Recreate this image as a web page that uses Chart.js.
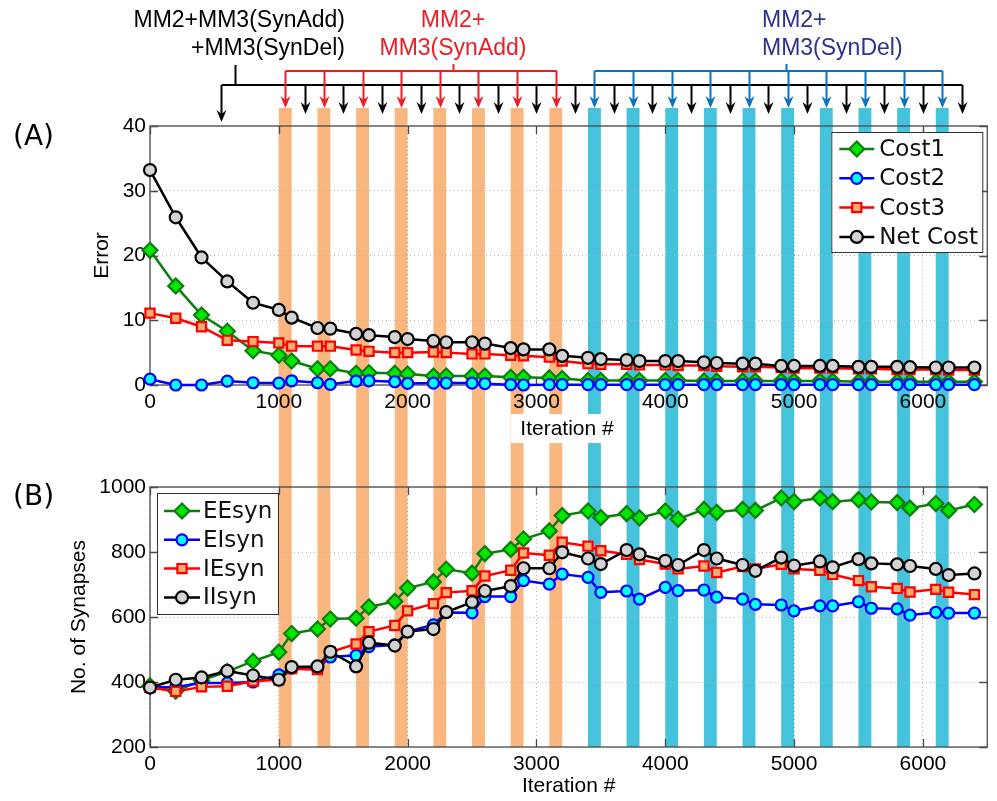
<!DOCTYPE html>
<html>
<head>
<meta charset="utf-8">
<script src="https://cdn.jsdelivr.net/npm/chart.js@4.4.1/dist/chart.umd.min.js"></script>
<style>
  body { margin: 0; background: #fff; }
  #wrap { position: relative; width: 997px; height: 801px; }
  #wrap canvas { position: absolute; left: 0; }
</style>
</head>
<body>
<div id="wrap">
  <canvas id="errorChart" width="997" height="460" style="top:0"></canvas>
  <canvas id="synChart" width="997" height="341" style="top:460px"></canvas>
</div>
<script>
// iterations at which the network was sampled
const iterations = [0, 200, 400, 600, 800, 1000, 1100, 1300, 1400, 1600, 1700, 1900, 2000, 2200, 2300,
  2500, 2600, 2800, 2900, 3100, 3200, 3400, 3500, 3700, 3800, 4000, 4100, 4300, 4400, 4600, 4700,
  4900, 5000, 5200, 5300, 5500, 5600, 5800, 5900, 6100, 6200, 6400];

// (A) error terms
const cost1 = [20.8, 15.3, 10.8, 8.3, 5.3, 4.6, 3.7, 2.5, 2.5, 1.8, 1.9, 1.8, 1.7, 1.4, 1.4, 1.4, 1.4, 1.2, 1.2, 1.1, 1.0,
  0.7, 0.7, 0.7, 0.7, 0.7, 0.7, 0.6, 0.6, 0.6, 0.6, 0.6, 0.6, 0.6, 0.6, 0.5, 0.5, 0.5, 0.5, 0.5, 0.5, 0.5];
const cost2 = [0.9, 0.0, 0.0, 0.6, 0.35, 0.3, 0.65, 0.35, 0.1, 0.6, 0.65, 0.5, 0.25, 0.3, 0.3, 0.3, 0.2, 0.05, 0.0, 0.05, 0.05,
  0.05, 0.05, 0.05, 0.05, 0.05, 0.05, 0.05, 0.05, 0.05, 0.05, 0.05, 0.05, 0.05, 0.05, 0.05, 0.05, 0.05, 0.05, 0.05, 0.05, 0.05];
const cost3 = [11.1, 10.3, 9.0, 6.9, 6.7, 6.5, 6.0, 6.0, 6.0, 5.4, 5.2, 5.0, 5.0, 5.1, 5.0, 4.8, 4.8, 4.6, 4.5, 4.3, 3.7,
  3.3, 3.2, 3.2, 3.1, 3.1, 3.0, 3.0, 2.9, 2.8, 2.8, 2.7, 2.6, 2.6, 2.6, 2.5, 2.5, 2.4, 2.4, 2.4, 2.3, 2.3];
const netCost = [33.2, 25.9, 19.7, 16.0, 12.7, 11.6, 10.4, 8.8, 8.7, 7.9, 7.7, 7.4, 7.1, 6.8, 6.6, 6.6, 6.4, 5.7, 5.5, 5.5, 4.5,
  4.2, 4.0, 3.85, 3.7, 3.7, 3.7, 3.5, 3.4, 3.3, 3.3, 2.95, 2.95, 2.95, 2.95, 2.8, 2.8, 2.8, 2.75, 2.7, 2.7, 2.7];

// (B) synapse counts
const eeSyn = [388, 372, 405, 432, 464, 492, 549, 563, 594, 596, 631, 648, 689, 708, 747, 735, 795, 808, 840, 865, 912,
  926, 906, 918, 905, 926, 901, 931, 922, 931, 928, 966, 955, 966, 955, 961, 954, 952, 935, 949, 928, 946];
const eiSyn = [383, 385, 397, 397, 400, 422, 443, 443, 477, 482, 509, 514, 555, 576, 614, 613, 663, 663, 712, 701, 732,
  722, 676, 680, 655, 691, 681, 683, 661, 655, 639, 637, 619, 634, 634, 647, 627, 625, 606, 614, 612, 612];
const ieSyn = [383, 371, 385, 387, 402, 407, 441, 438, 492, 517, 555, 574, 619, 641, 675, 681, 726, 744, 797, 790, 830,
  818, 804, 793, 777, 763, 748, 757, 737, 755, 748, 762, 748, 744, 731, 712, 693, 688, 677, 685, 676, 669];
const iiSyn = [383, 407, 414, 434, 420, 407, 446, 448, 493, 448, 521, 512, 555, 563, 615, 646, 680, 695, 750, 750, 799,
  780, 763, 806, 793, 773, 760, 806, 780, 760, 742, 783, 758, 771, 753, 778, 765, 762, 757, 748, 729, 734];

// axis ticks
const iterTicks = [0, 1000, 2000, 3000, 4000, 5000, 6000];
const errorTicks = [0, 10, 20, 30, 40];
const synTicks = [200, 400, 600, 800, 1000];

// stages: synapse addition windows and synapse deletion windows
const addStarts = [1000, 1300, 1600, 1900, 2200, 2500, 2800, 3100];
const delStarts = [3400, 3700, 4000, 4300, 4600, 4900, 5200, 5500, 5800, 6100];
const stageLength = 100;
const addArrows = [1050, 1350, 1650, 1950, 2250, 2550, 2850, 3150];
const delArrows = [3450, 3750, 4050, 4350, 4650, 4950, 5250, 5550, 5850, 6150];
const bothArrows = [1200, 1500, 1800, 2100, 2400, 2700, 3000, 3300, 3600, 3900, 4200, 4500, 4800, 5100,
  5400, 5700, 6000, 6300];
const startArrow = 550;

const ORANGE = '#f9b67f';
const CYAN = '#45c2dc';
const RED = '#ee1c25';
const BLUE_ARROW = '#0a70c2';
const BLUE_TEXT = '#2e3192';
const FONT = 'Liberation Sans, Arial, sans-serif';
const LEGEND_FONT = '23px DejaVu Sans, sans-serif';

const looks = {
  green: { borderColor: '#0b7f0b', pointBackgroundColor: '#00e600', pointBorderColor: '#0b7f0b',
    pointStyle: 'rectRot', pointRadius: 7.5, order: 3 },
  blue: { borderColor: '#0000ff', pointBackgroundColor: '#00ffff', pointBorderColor: '#0000ff',
    pointStyle: 'circle', pointRadius: 5.5, order: 2 },
  red: { borderColor: '#ff0000', pointBackgroundColor: '#f7ae72', pointBorderColor: '#ff0000',
    pointStyle: 'rect', pointRadius: 6.5, order: 1 },
  black: { borderColor: '#000000', pointBackgroundColor: '#d3d3d3', pointBorderColor: '#000000',
    pointStyle: 'circle', pointRadius: 6, order: 0 }
};

function series(label, values, look) {
  return Object.assign({
    label: label,
    data: iterations.map((it, i) => ({ x: it, y: values[i] })),
    borderWidth: 2.5,
    pointBorderWidth: 2.2,
    tension: 0,
    fill: false,
    clip: false
  }, look);
}

function fixedTicks(values) {
  return scale => { scale.ticks = values.map(v => ({ value: v })); };
}

function drawStages(chart, top, bottom) {
  const { ctx, scales: { x } } = chart;
  ctx.save();
  const fillStage = (start, color) => {
    const l = x.getPixelForValue(start);
    const r = x.getPixelForValue(start + stageLength);
    ctx.fillStyle = color;
    ctx.fillRect(l, top, r - l, bottom - top);
  };
  addStarts.forEach(s => fillStage(s, ORANGE));
  delStarts.forEach(s => fillStage(s, CYAN));
  ctx.restore();
}

function drawBox(chart) {
  const { ctx, chartArea: a, scales: { x, y } } = chart;
  ctx.save();
  ctx.strokeStyle = '#4a4a4a';
  ctx.lineWidth = 1.3;
  ctx.strokeRect(a.left, a.top, a.width, a.height);
  ctx.beginPath();
  x.ticks.forEach(t => {
    const px = Math.round(x.getPixelForValue(t.value)) + 0.5;
    ctx.moveTo(px, a.bottom); ctx.lineTo(px, a.bottom - 8);
    ctx.moveTo(px, a.top); ctx.lineTo(px, a.top + 8);
  });
  y.ticks.forEach(t => {
    const py = Math.round(y.getPixelForValue(t.value)) + 0.5;
    ctx.moveTo(a.left, py); ctx.lineTo(a.left + 8, py);
    ctx.moveTo(a.right, py); ctx.lineTo(a.right - 8, py);
  });
  ctx.stroke();
  ctx.restore();
}

function drawLegend(chart, box) {
  const { ctx } = chart;
  ctx.save();
  ctx.fillStyle = '#fff';
  ctx.fillRect(box.x, box.y, box.w, box.h);
  ctx.strokeStyle = '#333';
  ctx.lineWidth = 1;
  ctx.strokeRect(box.x + 0.5, box.y + 0.5, box.w, box.h);
  ctx.font = LEGEND_FONT;
  ctx.textBaseline = 'middle';
  chart.data.datasets.forEach((ds, i) => {
    const cy = box.y + box.first + i * box.step;
    ctx.strokeStyle = ds.borderColor;
    ctx.lineWidth = ds.borderWidth;
    ctx.beginPath();
    ctx.moveTo(box.x + box.lineFrom, cy);
    ctx.lineTo(box.x + box.lineTo, cy);
    ctx.stroke();
    ctx.fillStyle = ds.pointBackgroundColor;
    ctx.strokeStyle = ds.pointBorderColor;
    ctx.lineWidth = ds.pointBorderWidth;
    Chart.helpers.drawPoint(ctx, { pointStyle: ds.pointStyle, radius: ds.pointRadius, rotation: 0,
      borderWidth: ds.pointBorderWidth }, box.x + (box.lineFrom + box.lineTo) / 2, cy);
    ctx.fillStyle = '#111';
    ctx.fillText(ds.label, box.x + box.text, cy + 1);
  });
  ctx.restore();
}

function arrow(ctx, x, y0, tip, color) {
  ctx.strokeStyle = color;
  ctx.fillStyle = color;
  ctx.lineWidth = 2;
  ctx.beginPath();
  ctx.moveTo(x, y0);
  ctx.lineTo(x, tip - 6);
  ctx.stroke();
  ctx.beginPath();
  ctx.moveTo(x, tip);
  ctx.lineTo(x - 5, tip - 12);
  ctx.lineTo(x, tip - 8);
  ctx.lineTo(x + 5, tip - 12);
  ctx.closePath();
  ctx.fill();
}

function drawStageNotes(chart) {
  const { ctx, scales: { x } } = chart;
  const px = v => Math.round(x.getPixelForValue(v)) + 0.5;
  ctx.save();
  // combined MM2 + both MM3 moves
  ctx.strokeStyle = '#000';
  ctx.lineWidth = 2;
  ctx.beginPath();
  ctx.moveTo(px(startArrow), 85);
  ctx.lineTo(px(bothArrows[bothArrows.length - 1]), 85);
  ctx.moveTo(235.5, 65);
  ctx.lineTo(235.5, 85);
  ctx.stroke();
  arrow(ctx, px(startArrow), 85, 122, '#000');
  bothArrows.forEach(v => arrow(ctx, px(v), 85, 114, '#000'));

  // brackets for the addition and deletion stages
  const bracket = (list, stemX, color) => {
    ctx.strokeStyle = color;
    ctx.lineWidth = 2;
    ctx.beginPath();
    ctx.moveTo(px(list[0]), 71);
    ctx.lineTo(px(list[list.length - 1]), 71);
    ctx.moveTo(stemX, 64);
    ctx.lineTo(stemX, 71);
    ctx.stroke();
    list.forEach(v => arrow(ctx, px(v), 71, 108, color));
  };
  bracket(addArrows, 453.5, RED);
  bracket(delArrows, 786.5, BLUE_ARROW);

  ctx.font = '23px ' + FONT;
  ctx.textBaseline = 'middle';
  ctx.fillStyle = '#000';
  ctx.textAlign = 'right';
  ctx.fillText('MM2+MM3(SynAdd)', 345, 21);
  ctx.fillText('+MM3(SynDel)', 345, 49);
  ctx.fillStyle = RED;
  ctx.textAlign = 'center';
  ctx.fillText('MM2+', 453, 21);
  ctx.fillText('MM3(SynAdd)', 453, 49);
  ctx.fillStyle = BLUE_TEXT;
  ctx.textAlign = 'left';
  ctx.fillText('MM2+', 762, 21);
  ctx.fillText('MM3(SynDel)', 762, 49);

  ctx.fillStyle = '#000';
  ctx.font = '28px DejaVu Sans, sans-serif';
  ctx.fillText('(A)', 13, 138);
  ctx.restore();
}

function axisTitle(text) {
  return { display: true, text: text, color: '#000', padding: 0, font: { family: FONT, size: 21 } };
}

function baseScales(yMin, yMax, yTicks, yTitle, xTitle, yWidth, xHeight) {
  const plain = v => String(v);
  return {
    x: {
      type: 'linear', min: 0, max: 6500,
      afterBuildTicks: fixedTicks(iterTicks),
      afterFit: s => { s.height = xHeight; },
      grid: { color: '#b4b4b4', lineWidth: 1, drawTicks: false },
      border: { display: false, dash: [1, 3] },
      ticks: { color: '#000', padding: 5, maxRotation: 0, autoSkip: false, callback: plain,
        font: { family: FONT, size: 21 } },
      title: xTitle
    },
    y: {
      type: 'linear', min: yMin, max: yMax,
      afterBuildTicks: fixedTicks(yTicks),
      afterFit: s => { s.width = yWidth; },
      grid: { color: '#b4b4b4', lineWidth: 1, drawTicks: false },
      border: { display: false, dash: [1, 3] },
      ticks: { color: '#000', padding: 4, autoSkip: false, callback: plain,
        font: { family: FONT, size: 21 } },
      title: axisTitle(yTitle)
    }
  };
}

const errorPanel = {
  id: 'errorPanel',
  beforeDraw(chart) { drawStages(chart, 108, chart.height); },
  beforeDatasetsDraw(chart) { drawBox(chart); },
  afterDraw(chart) {
    const a = chart.chartArea;
    drawLegend(chart, { x: a.right - 156, y: a.top + 6, w: 151, h: 120, first: 17, step: 29.3,
      lineFrom: 8, lineTo: 43, text: 48 });
    drawStageNotes(chart);
    // x-axis title on a white patch above the stage bands
    const ctx = chart.ctx;
    ctx.save();
    ctx.fillStyle = '#fff';
    ctx.fillRect(511, 414, 112, 29);
    ctx.fillStyle = '#000';
    ctx.font = '21px ' + FONT;
    ctx.textAlign = 'center';
    ctx.textBaseline = 'middle';
    ctx.fillText('Iteration #', 567, 429);
    ctx.restore();
  }
};

const synPanel = {
  id: 'synPanel',
  beforeDraw(chart) { drawStages(chart, 0, chart.chartArea.bottom); },
  beforeDatasetsDraw(chart) { drawBox(chart); },
  afterDraw(chart) {
    const a = chart.chartArea;
    drawLegend(chart, { x: a.left + 7, y: a.top + 6, w: 121, h: 121, first: 18, step: 28.8,
      lineFrom: 7, lineTo: 43, text: 46 });
    const ctx = chart.ctx;
    ctx.save();
    ctx.fillStyle = '#000';
    ctx.font = '28px DejaVu Sans, sans-serif';
    ctx.textBaseline = 'middle';
    ctx.fillText('(B)', 13, 38);
    ctx.restore();
  }
};

new Chart(document.getElementById('errorChart'), {
  type: 'line',
  data: {
    datasets: [
      series('Cost1', cost1, looks.green),
      series('Cost2', cost2, looks.blue),
      series('Cost3', cost3, looks.red),
      series('Net Cost', netCost, looks.black)
    ]
  },
  options: {
    responsive: false,
    animation: false,
    layout: { padding: { left: 90, right: 7, top: 126, bottom: 0 } },
    plugins: { legend: { display: false }, tooltip: { enabled: false } },
    scales: baseScales(0, 40, errorTicks, 'Error', { display: false }, 60, 75)
  },
  plugins: [errorPanel]
});

new Chart(document.getElementById('synChart'), {
  type: 'line',
  data: {
    datasets: [
      series('EEsyn', eeSyn, looks.green),
      series('EIsyn', eiSyn, looks.blue),
      series('IEsyn', ieSyn, looks.red),
      series('IIsyn', iiSyn, looks.black)
    ]
  },
  options: {
    responsive: false,
    animation: false,
    layout: { padding: { left: 67, right: 7, top: 27, bottom: 2 } },
    plugins: { legend: { display: false }, tooltip: { enabled: false } },
    scales: baseScales(200, 1000, synTicks, 'No. of Synapses', axisTitle('Iteration #'), 83, 52)
  },
  plugins: [synPanel]
});
</script>
</body>
</html>
